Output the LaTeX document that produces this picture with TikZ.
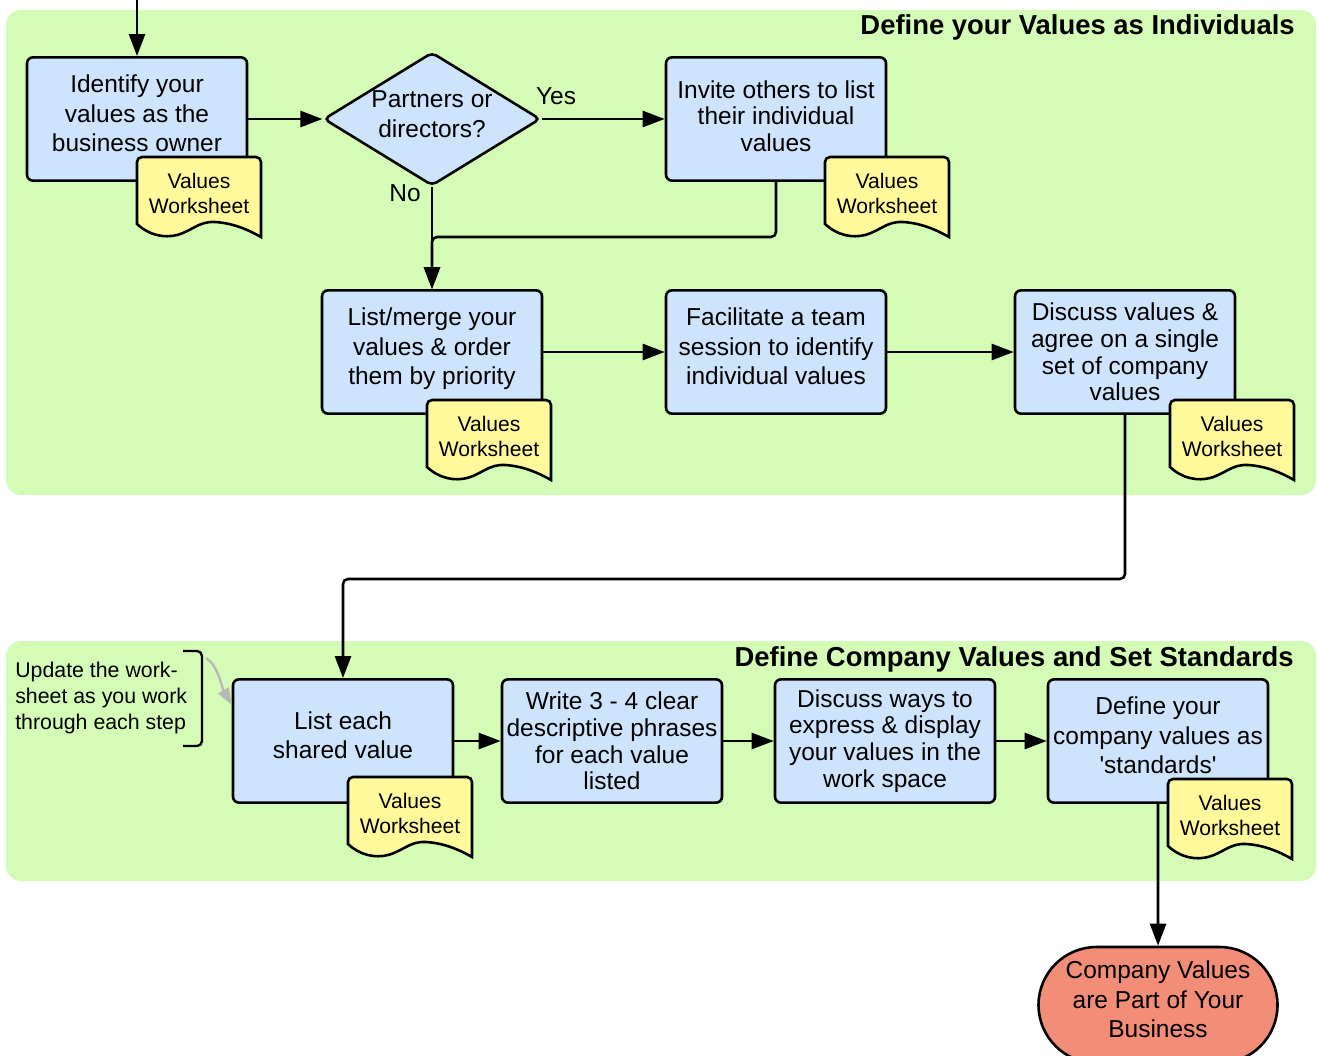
\documentclass[tikz,border=0pt]{standalone}
\usepackage{fontspec}
\setmainfont{Liberation Sans}
\usetikzlibrary{arrows.meta,shapes.geometric,shapes.misc}
\definecolor{groupgreen}{RGB}{213,252,182}
\definecolor{stepblue}{RGB}{205,228,252}
\definecolor{docyellow}{RGB}{255,249,155}
\definecolor{endred}{RGB}{242,141,119}
\begin{document}
\begin{tikzpicture}[x=0.03cm,y=-0.03cm,line width=2.2pt,>={Triangle[length=6.6mm,width=4.8mm]},
        stepbox/.style={draw,fill=stepblue,rounded corners=1.8mm,minimum width=6.6cm,minimum height=3.7cm,inner sep=0pt,align=center,text depth=10pt,font=\fontsize{20.9}{25.2}\selectfont},
        tight/.style={text depth=,font=\fontsize{20.9}{22.8}\selectfont},
        decision/.style={draw,fill=stepblue,diamond,aspect=1.62,minimum width=6.5cm,minimum height=4cm,inner sep=0pt,rounded corners=1.5mm,align=center,text depth=8pt,font=\fontsize{20.9}{25.2}\selectfont},
        finish/.style={draw,fill=endred,rounded rectangle,minimum width=7.17cm,minimum height=3.48cm,inner sep=0pt,align=center,text depth=10pt,font=\fontsize{20.9}{25.2}\selectfont},
        doctext/.style={align=center,inner sep=0pt,font=\fontsize{18}{21.3}\selectfont},
        grouptitle/.style={anchor=east,inner sep=0pt,font=\fontsize{23.4}{27}\selectfont\bfseries},
        note/.style={anchor=west,align=left,inner sep=0pt,font=\fontsize{18.2}{21.8}\selectfont},
        label/.style={inner sep=0pt,font=\fontsize{20.9}{24.5}\selectfont}]
    \useasboundingbox (0,0) rectangle (1317,1055);
    \clip (0,0) rectangle (1317,1055);
    % groups
    \fill[groupgreen,rounded corners=4.5mm] (6,10) rectangle (1316,495);
    \fill[groupgreen,rounded corners=4.5mm] (6,641) rectangle (1316,881);
    \node[grouptitle] (title1) at (1296,27) {Define your Values as Individuals};
    \node[grouptitle] (title2) at (1295,659) {Define Company Values and Set Standards};
    % steps
    \node[stepbox] (ident) at (137,119) {Identify your\\values as the\\business owner};
    \node[decision] (dec) at (432,119) {Partners or\\directors?};
    \node[stepbox,tight,text depth=5pt] (invite) at (776,119) {Invite others to list\\their individual\\values};
    \node[stepbox] (merge) at (432,352) {List/merge your\\values \& order\\them by priority};
    \node[stepbox] (facil) at (776,352) {Facilitate a team\\session to identify\\individual values};
    \node[stepbox,tight] (agree) at (1125,352) {Discuss values \&\\agree on a single\\set of company\\values};
    \node[stepbox] (listeach) at (343,741) {List each\\shared value};
    \node[stepbox,tight] (write) at (612,741) {Write 3 - 4 clear\\descriptive phrases\\for each value\\listed};
    \node[stepbox,tight] (ways) at (885,741) {Discuss ways to\\express \& display\\your values in the\\work space};
    \node[stepbox] (define) at (1158,741) {Define your\\company values as\\\textquotesingle standards\textquotesingle};
    \node[finish] (done) at (1158,1005) {Company Values\\are Part of Your\\Business};
    % worksheets
    \foreach \n/\x/\y in {wsA/137/157,wsB/825/157,wsC/427/400,wsD/1170/400,wsE/348/777,wsF/1168/779}{
        \draw[fill=docyellow] (\x,\y+67) [rounded corners=1.5mm] -- (\x,\y) -- (\x+124,\y) [sharp corners] -- (\x+124,\y+80)
            .. controls (\x+110,\y+72) and (\x+95,\y+66) .. (\x+78,\y+65)
            .. controls (\x+62,\y+64) and (\x+55,\y+74) .. (\x+40,\y+78)
            .. controls (\x+28,\y+81) and (\x+13,\y+79) .. cycle;
        \node[doctext] (\n) at (\x+62,\y+36) {Values\\Worksheet};
    }
    % flow
    \coordinate (start) at (137,0);
    \draw[->] (start) -- (ident);
    \draw[->] (ident) -- (dec);
    \draw[->] (dec) -- (invite);
    \draw[->] (dec) -- (merge);
    \draw[->,rounded corners=1.5mm] (invite.south) -- ++(0,55) -| (merge.north);
    \draw[->] (merge) -- (facil);
    \draw[->] (facil) -- (agree);
    \draw[->,rounded corners=1.5mm] (agree.south) -- ++(0,164) -| (listeach.north);
    \draw[->] (listeach) -- (write);
    \draw[->] (write) -- (ways);
    \draw[->] (ways) -- (define);
    \draw[->] (define) -- (done);
    \node[label] (yes) at (556,96) {Yes};
    \node[label] (no) at (405,193) {No};
    % note
    \node[note] (upd) at (14,698) {Update the work-\\sheet as you work\\through each step};
    \draw[line width=2pt,rounded corners=1.5mm] (183,651) -- (202,651) -- (202,746) -- (183,746);
    \coordinate (brk) at (206,658);
    \draw[black!28,line width=2pt,-{Triangle[length=5mm,width=3.6mm]}] (brk) .. controls (218,665) and (222,688) .. (listeach.162);
\end{tikzpicture}
\end{document}
